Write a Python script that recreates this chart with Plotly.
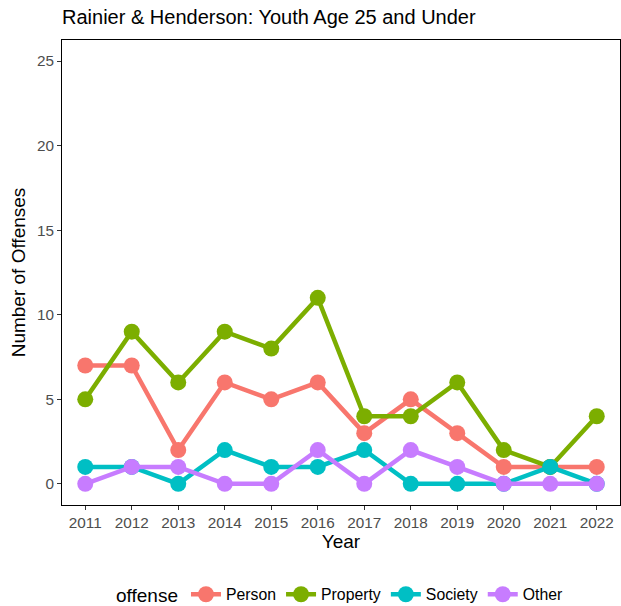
import plotly.graph_objects as go

years = list(range(2011, 2023))
person = [7, 7, 2, 6, 5, 6, 3, 5, 3, 1, 1, 1]
property_ = [5, 9, 6, 9, 8, 11, 4, 4, 6, 2, 1, 4]
society = [1, 1, 0, 2, 1, 1, 2, 0, 0, 0, 1, 0]
other = [0, 1, 1, 0, 0, 2, 0, 2, 1, 0, 0, 0]

series = [("Person", person, "#F8766D"), ("Property", property_, "#7CAE00"),
          ("Society", society, "#00BFC4"), ("Other", other, "#C77CFF")]

fig = go.Figure()
for name, vals, col in series:
    fig.add_trace(go.Scatter(x=years, y=vals, name=name, mode="lines+markers",
                             line=dict(color=col, width=4.5),
                             marker=dict(color=col, size=16)))

font = "Liberation Sans, Arial, sans-serif"
fig.update_layout(
    width=621, height=606,
    margin=dict(l=62, r=1, t=40, b=101, autoexpand=False),
    plot_bgcolor="white", paper_bgcolor="white",
    font=dict(family=font, color="black"),
    title=dict(text="Rainier & Henderson: Youth Age 25 and Under", x=62/621, xanchor="left",
               y=1-17/606, yanchor="middle", font=dict(size=20, color="black")),
    xaxis=dict(range=[2010.5, 2022.5], tickmode="array", tickvals=years,
               ticktext=[str(y) for y in years], showgrid=False, zeroline=False,
               showline=True, linecolor="black", linewidth=1, mirror=True,
               ticks="outside", ticklen=4, tickcolor="#333333", automargin=False,
               tickfont=dict(size=15.3, color="#4d4d4d"),
               title=dict(text="Year", font=dict(size=19, color="black"), standoff=2)),
    yaxis=dict(range=[-1.25, 26.25], tickvals=[0, 5, 10, 15, 20, 25], showgrid=False,
               zeroline=False, showline=True, linecolor="black", linewidth=1, mirror=True,
               ticks="outside", ticklen=4, tickcolor="#333333", automargin=False,
               tickfont=dict(size=15.3, color="#4d4d4d"),
               title=dict(text="Number of Offenses", font=dict(size=19, color="black"), standoff=6)),
    legend=dict(orientation="h", x=0.5, xanchor="center", y=-0.1935, yanchor="middle",
                title=dict(text="offense", font=dict(size=19)), font=dict(size=15.8),
                itemwidth=30),
)
fig.write_html("out.html", post_script="document.body.style.margin='0px';",
               config={"displayModeBar": False})
